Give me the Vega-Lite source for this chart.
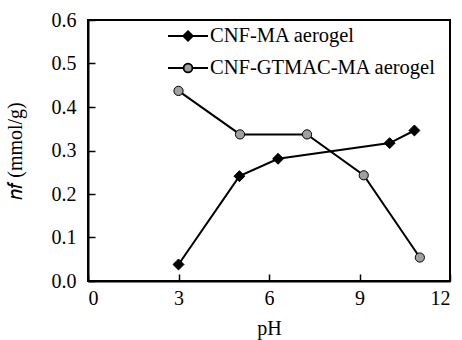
{
  "$schema": "https://vega.github.io/schema/vega-lite/v6.json",
  "width": 362,
  "height": 261,
  "autosize": "none",
  "padding": {"left": 88, "top": 20, "right": 12, "bottom": 59},
  "background": "white",
  "config": {
    "font": "Liberation Serif, serif",
    "view": {"stroke": "black", "strokeWidth": 2},
    "axis": {"grid": false, "domainColor": "black", "domainWidth": 2, "tickColor": "black", "tickWidth": 1.5, "labelColor": "black", "titleColor": "black", "labelFont": "Liberation Serif, serif", "titleFont": "Liberation Serif, serif", "labelFontSize": 20, "titleFontSize": 20, "titleFontWeight": "normal"}
  },
  "data": {"values": [
    {"series": "CNF-MA aerogel", "pH": 3, "nf": 0.038},
    {"series": "CNF-MA aerogel", "pH": 5.02, "nf": 0.241},
    {"series": "CNF-MA aerogel", "pH": 6.3, "nf": 0.281},
    {"series": "CNF-MA aerogel", "pH": 10.0, "nf": 0.317},
    {"series": "CNF-MA aerogel", "pH": 10.82, "nf": 0.346},
    {"series": "CNF-GTMAC-MA aerogel", "pH": 3, "nf": 0.437},
    {"series": "CNF-GTMAC-MA aerogel", "pH": 5.04, "nf": 0.337},
    {"series": "CNF-GTMAC-MA aerogel", "pH": 7.26, "nf": 0.337},
    {"series": "CNF-GTMAC-MA aerogel", "pH": 9.14, "nf": 0.243},
    {"series": "CNF-GTMAC-MA aerogel", "pH": 11.0, "nf": 0.054}
  ]},
  "encoding": {
    "x": {"field": "pH", "type": "quantitative", "scale": {"domain": [0, 12], "nice": false}, "axis": {"values": [0, 3, 6, 9, 12], "title": "pH", "tickSize": -7, "labelPadding": 14, "titlePadding": 10}},
    "y": {"field": "nf", "type": "quantitative", "scale": {"domain": [0, 0.6], "nice": false}, "axis": {"values": [0, 0.1, 0.2, 0.3, 0.4, 0.5, 0.6], "format": ".1f", "title": "𝑛𝑓 (mmol/g)", "tickSize": -7, "labelPadding": 19, "titlePadding": 26}}
  },
  "layer": [
    {
      "mark": {"type": "line", "strokeWidth": 2},
      "encoding": {
        "color": {"field": "series", "type": "nominal", "scale": {"domain": ["CNF-MA aerogel", "CNF-GTMAC-MA aerogel"], "range": ["black", "black"]},
          "legend": {"title": null, "orient": "none", "legendX": 79, "legendY": -5, "symbolSize": 1600, "symbolStrokeWidth": 1.8, "labelFont": "Liberation Serif, serif", "labelFontSize": 20.5, "labelColor": "black", "labelOffset": 1, "labelLimit": 400, "rowPadding": -20,
            "encode": {"symbols": {"update": {
              "shape": {"signal": "datum.value == 'CNF-MA aerogel' ? 'M-1,0H1M0,-0.24L0.24,0L0,0.24L-0.24,0Z' : 'M-1,0H-0.22M0.22,0H1M-0.22,0A0.22,0.22 0 1,0 0.22,0A0.22,0.22 0 1,0 -0.22,0Z'"},
              "fill": {"signal": "datum.value == 'CNF-MA aerogel' ? 'black' : '#a0a0a0'"},
              "stroke": {"value": "black"},
              "opacity": {"value": 1},
              "fillOpacity": {"value": 1}
            }}}}}
      }
    },
    {
      "transform": [{"filter": "datum.series == 'CNF-MA aerogel'"}],
      "mark": {"type": "point", "shape": "diamond", "filled": true, "fill": "black", "stroke": "black", "strokeWidth": 1, "opacity": 1, "size": 120}
    },
    {
      "transform": [{"filter": "datum.series == 'CNF-GTMAC-MA aerogel'"}],
      "mark": {"type": "point", "shape": "circle", "filled": true, "fill": "#a0a0a0", "stroke": "black", "strokeWidth": 1, "opacity": 1, "size": 85}
    }
  ]
}
